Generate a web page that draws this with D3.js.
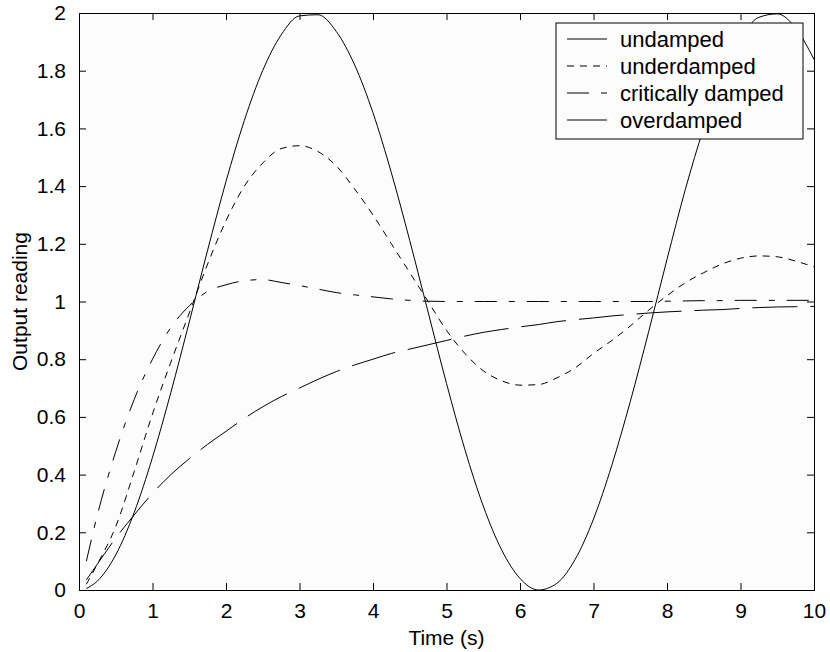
<!DOCTYPE html>
<html><head><meta charset="utf-8">
<script src="https://cdn.jsdelivr.net/npm/d3@7"></script>
<style>
body{margin:0;background:#fff;}
text{font-family:"Liberation Sans",Arial,Helvetica,sans-serif;fill:#000;}
</style></head>
<body><svg id="c" width="830" height="652"></svg>
<script>
const times = [0.1,0.25,0.5,0.75,1,1.25,1.5,1.75,2,2.25,2.5,2.75,3,3.25,3.5,3.75,4,4.25,4.5,4.75,5,5.25,5.5,5.75,6,6.25,6.5,6.75,7,7.25,7.5,7.75,8,8.25,8.5,8.75,9,9.25,9.5,9.75,10];
const undamped = [0.005,0.031,0.122,0.268,0.460,0.685,0.929,1.178,1.416,1.628,1.801,1.924,1.990,1.994,1.936,1.820,1.654,1.446,1.211,0.963,0.716,0.487,0.291,0.139,0.040,0.000,0.023,0.106,0.246,0.433,0.653,0.895,1.146,1.389,1.602,1.782,1.911,1.985,1.997,1.948,1.839];
const underdamped = [0.02,0.09,0.22,0.41,0.61,0.79,0.96,1.13,1.28,1.40,1.48,1.53,1.54,1.52,1.47,1.39,1.30,1.20,1.10,1.00,0.90,0.82,0.76,0.725,0.71,0.712,0.735,0.77,0.82,0.865,0.915,0.97,1.02,1.065,1.10,1.13,1.15,1.158,1.155,1.14,1.12];
const criticallyDamped = [0.10,0.26,0.48,0.66,0.80,0.91,0.985,1.035,1.058,1.072,1.076,1.066,1.055,1.043,1.031,1.023,1.016,1.009,1.004,1.001,1.0,1.0,1.0,1.0,1.0,1.0,1.0,1.0,1.0,1.0,1.0,1.0,1.001,1.002,1.003,1.003,1.004,1.004,1.004,1.004,1.004];
const overdamped = [0.035,0.09,0.18,0.26,0.335,0.40,0.455,0.505,0.55,0.595,0.635,0.67,0.70,0.73,0.757,0.78,0.80,0.82,0.835,0.85,0.865,0.88,0.893,0.903,0.912,0.92,0.93,0.937,0.943,0.95,0.955,0.96,0.964,0.967,0.97,0.972,0.976,0.979,0.981,0.982,0.983];
const seriesNames = ["undamped","underdamped","critically damped","overdamped"];
const xTicks = [0,1,2,3,4,5,6,7,8,9,10];
const yTicks = [0,0.2,0.4,0.6,0.8,1,1.2,1.4,1.6,1.8,2];
const xLabel = "Time (s)";
const yLabel = "Output reading";

const seriesData = [undamped, underdamped, criticallyDamped, overdamped];
const dashes = [null, "7,6", "22,12,6,12", "45,13"];

const L = 79, R = 814, T = 13, B = 590;
const svg = d3.select("#c");
const x = d3.scaleLinear().domain([0,10]).range([L,R]);
const y = d3.scaleLinear().domain([0,2]).range([B,T]);

svg.append("rect").attr("x",L).attr("y",T).attr("width",R-L).attr("height",B-T).attr("fill","#fcfcfc");
svg.append("defs").append("clipPath").attr("id","clip").append("rect").attr("x",L).attr("y",T-1).attr("width",R-L).attr("height",B-T+1);

const line = d3.line().x((d,i)=>x(times[i])).y(d=>y(d)).curve(d3.curveMonotoneX);
const g = svg.append("g").attr("clip-path","url(#clip)");
seriesData.forEach((s,k)=>{
  g.append("path").attr("d",line(s)).attr("fill","none").attr("stroke","#000").attr("stroke-width",1)
   .attr("stroke-dasharray",dashes[k]);
});

const fs = "21px";
const tl = 7;
const axB = d3.axisBottom(x).tickValues(xTicks).tickSize(-tl).tickPadding(tl+6).tickFormat(d3.format("d"));
const axT = d3.axisTop(x).tickValues(xTicks).tickSize(-tl).tickFormat("");
const axL = d3.axisLeft(y).tickValues(yTicks).tickSize(-tl).tickPadding(tl+6).tickFormat(d=>d3.format("")(+d.toFixed(1)));
const axR = d3.axisRight(y).tickValues(yTicks).tickSize(-tl).tickFormat("");
[[axB,`translate(0,${B})`],[axT,`translate(0,${T})`],[axL,`translate(${L},0)`],[axR,`translate(${R},0)`]].forEach(([a,t])=>{
  const gg = svg.append("g").attr("transform",t).call(a);
  gg.selectAll("text").style("font-size",fs).attr("fill","#000").style("font-family",'"Liberation Sans",Arial,sans-serif');
  gg.select(".domain").attr("stroke","#000");
  gg.selectAll(".tick line").attr("stroke","#000");
});

svg.append("text").attr("x",(L+R)/2).attr("y",645).attr("text-anchor","middle").style("font-size",fs).text(xLabel);
svg.append("text").attr("transform",`translate(27,${(T+B)/2}) rotate(-90)`).attr("text-anchor","middle").style("font-size",fs).text(yLabel);

// legend
const lg = svg.append("g");
lg.append("rect").attr("x",556).attr("y",23).attr("width",247).attr("height",116).attr("fill","#fcfcfc").attr("stroke","#000");
seriesNames.forEach((n,k)=>{
  const yy = 39 + k*27;
  lg.append("line").attr("x1",567).attr("x2",607).attr("y1",yy).attr("y2",yy).attr("stroke","#000").attr("stroke-dasharray",dashes[k]);
  lg.append("text").attr("x",620).attr("y",yy).attr("dy","0.35em").style("font-size","22px").text(n);
});
</script></body></html>
